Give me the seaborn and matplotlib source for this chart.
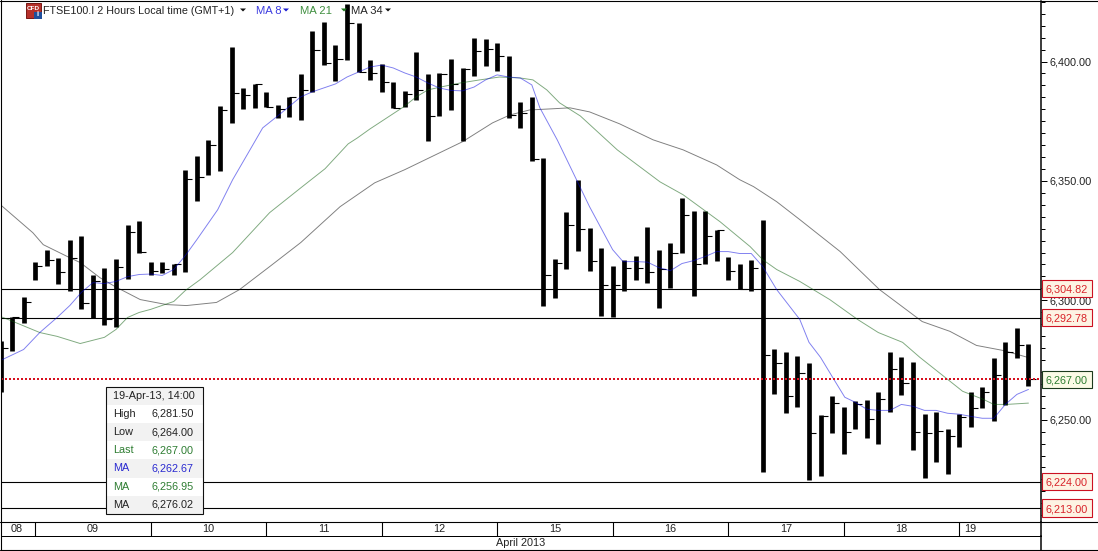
import matplotlib
matplotlib.use("Agg")
import matplotlib.pyplot as plt
from matplotlib.lines import Line2D
from matplotlib.patches import Rectangle, Polygon
import numpy as np
import pandas as pd
import seaborn as sns

# ---------- data ----------
highs = [6282.8,6293.2,6301.2,6316.2,6321.2,6317.9,6325.4,6327.1,6310.8,6313.7,
         6317.5,6331.7,6333.3,6316.2,6316.2,6315.4,6354.7,6360.5,6367.2,6381.4,
         6406.1,6388.9,6390.6,6387.3,6381.8,6385.2,6394.8,6412.7,6416.5,6406.9,
         6424.0,6416.1,6400.6,6399.0,6391.4,6387.7,6404.0,6394.8,6395.2,6401.0,
         6397.3,6409.8,6409.4,6407.7,6402.3,6383.1,6385.2,6359.7,6317.5,6337.1,
         6350.5,6330.4,6322.0,6314.5,6317.0,6318.7,6330.8,6321.2,6324.2,6343.0,
         6337.5,6337.5,6329.6,6318.3,6315.0,6317.0,6333.8,6279.4,6278.2,6276.5,
         6273.6,6251.9,6259.8,6255.2,6257.7,6258.1,6261.5,6278.2,6276.1,6274.0,
         6252.3,6253.1,6246.0,6252.3,6261.5,6263.6,6275.7,6282.4,6288.6,6281.5]
lows = [6261.5,6278.6,6290.3,6308.3,6314.5,6307.0,6304.1,6296.2,6292.4,6289.5,
        6289.0,6309.1,6319.6,6310.4,6311.6,6310.4,6312.0,6341.7,6352.6,6354.2,
        6374.3,6380.2,6380.6,6381.0,6376.4,6376.8,6375.6,6387.3,6398.5,6391.8,
        6400.6,6395.6,6392.3,6387.3,6380.6,6381.0,6383.9,6366.8,6377.2,6379.7,
        6366.8,6393.9,6398.1,6396.0,6376.4,6372.2,6358.4,6297.8,6300.8,6313.3,
        6320.8,6312.4,6293.6,6293.2,6304.1,6308.7,6307.4,6296.6,6305.3,6319.6,
        6301.6,6315.4,6316.6,6308.3,6304.9,6303.7,6228.0,6260.6,6252.7,6255.2,
        6224.7,6226.4,6244.3,6235.6,6246.0,6242.2,6239.7,6253.1,6260.2,6237.2,
        6225.5,6232.2,6227.2,6238.5,6246.8,6254.8,6249.3,6256.0,6275.7,6264.0]
closes = [6279.9,6293.2,6299.1,6314.5,6317.0,6312.0,6317.9,6298.7,6307.9,6292.0,
          6314.1,6328.7,6320.4,6312.4,6312.9,6315.4,6350.9,6351.7,6365.1,6379.7,
          6386.8,6386.0,6390.6,6381.0,6380.2,6385.2,6388.1,6404.8,6399.4,6401.0,
          6416.1,6395.6,6395.2,6391.4,6380.6,6386.4,6388.1,6377.2,6394.8,6390.6,
          6396.9,6404.4,6405.2,6402.3,6377.6,6378.5,6359.3,6310.4,6315.8,6331.7,
          6330.0,6316.6,6306.6,6306.2,6313.7,6313.7,6312.0,6313.3,6320.0,6335.9,
          6315.4,6327.1,6329.6,6312.4,6304.9,6313.7,6276.9,6273.6,6259.8,6269.4,
          6244.3,6251.4,6256.9,6244.7,6256.4,6250.2,6258.5,6271.1,6265.2,6244.7,
          6244.3,6245.2,6243.1,6251.0,6254.8,6261.5,6268.6,6278.2,6281.1,6267.0]

ma8_idx = [0,2,3.4,4.9,6,7,8,9,10,11,12,13,14,15,16,17,18.8,20.1,21.6,22.7,24,26,27,29,30,31,32,33,34,35,36,37,38,39,40,41,42,43,44,45,46,46.7,48.2,51,53,53.9,55,56,57,58,59,60,61,62,63,64,65,66,67.2,69.2,70,71,72,73.1,74,75,76,77,78,79,80,81,82,83,84,85,86,87,88,89]
ma8_val = [6274.8,6279.4,6286.5,6292.8,6297.8,6303.3,6307.4,6307.0,6307.9,6309.9,6310.8,6311.0,6310.4,6312.9,6318.7,6325.4,6337.9,6350.5,6363.0,6372.2,6377.2,6385.2,6387.3,6390.6,6393.5,6395.6,6397.7,6398.5,6397.3,6395.2,6393.5,6391.0,6388.9,6387.9,6387.7,6389.3,6392.3,6394.4,6393.5,6393.1,6390.2,6380.6,6367.2,6339.2,6321.2,6316.2,6316.2,6316.0,6313.7,6312.4,6315.4,6316.6,6318.3,6320.4,6320.4,6319.6,6319.6,6314.1,6304.5,6292.0,6282.4,6276.1,6268.1,6259.4,6257.3,6254.4,6253.9,6253.9,6256.4,6255.6,6253.9,6253.9,6252.7,6252.3,6251.4,6250.6,6250.6,6256.4,6260.6,6262.67]

ma21_idx = [0,0.9,3.4,4.9,6.9,9,10,11,12,13,15,16,17.3,20.1,23.3,26,28.1,30.1,30.9,32,34.9,36,37,38.1,39.8,41.5,43.2,45,46.1,47.3,48.4,50.2,53.4,57.1,59.1,62.3,64.9,66,67.2,69.2,71.8,74.2,76,78.1,79.6,82,83.3,85.1,86,87.1,89]
ma21_val = [6293.2,6291.5,6286.5,6284.9,6281.9,6284.5,6287.8,6292.8,6294.9,6296.2,6299.5,6304.1,6308.7,6320.0,6336.7,6347.1,6355.1,6365.5,6368.0,6371.8,6381.0,6385.2,6388.1,6389.3,6391.0,6392.3,6393.5,6393.1,6392.3,6388.1,6382.7,6377.2,6363.0,6349.6,6344.2,6332.9,6322.5,6317.0,6312.9,6307.9,6300.3,6292.0,6286.5,6282.4,6276.1,6266.9,6261.9,6258.5,6256.4,6256.4,6256.95]

ma34_idx = [0,2.8,3.7,5.8,6.9,8.6,9.9,12.1,14.4,16.1,18.7,20.7,23.3,26,29.4,32.4,35,40,42.6,44.1,45.8,47.8,49.3,51,53.6,56.5,59.1,62,64,65.2,67.2,69.2,72.7,76.1,79.8,82.2,84.5,86.8,89]
ma34_val = [6340.0,6328.3,6323.3,6318.3,6315.8,6309.5,6305.8,6300.3,6298.2,6297.8,6299.1,6304.5,6314.1,6324.2,6339.2,6349.2,6354.7,6366.4,6374.3,6377.6,6379.7,6380.2,6380.6,6378.9,6373.9,6367.2,6363.0,6356.7,6350.5,6347.6,6341.3,6333.8,6320.4,6304.5,6291.1,6287.0,6281.1,6279.0,6276.02]

black_levels = [6304.82, 6292.78, 6224.00, 6213.00]
last_price = 6267.00
y_ticks_major = [6400, 6350, 6300, 6250]

day_labels = ["08", "09", "10", "11", "12", "15", "16", "17", "18", "19"]
day_label_idx = [1.4, 8, 18, 28, 38, 48, 58, 68, 78, 84]
day_edges = [3, 13, 23, 33, 43, 53, 63, 73, 83]
month_label = "April 2013"
month_label_idx = 45

info_rows = [("19-Apr-13, 14:00", "", "#222222"),
             ("High", "6,281.50", "#222222"),
             ("Low", "6,264.00", "#222222"),
             ("Last", "6,267.00", "#2e7d32"),
             ("MA", "6,262.67", "#2a2ad0"),
             ("MA", "6,256.95", "#2e7d32"),
             ("MA", "6,276.02", "#222222")]

# ---------- figure ----------
sns.set_theme(style="white")
plt.rcParams["font.family"] = ["Liberation Sans", "DejaVu Sans"]
W, H = 1098, 551
PX = 0.72
FS = 7.8
TXT = "#222222"
fig = plt.figure(figsize=(W / 100, H / 100), dpi=100, facecolor="white")


def axpx(x0, y0, x1, y1, **kw):
    return fig.add_axes([x0 / W, 1 - y1 / H, (x1 - x0) / W, (y1 - y0) / H], **kw)


ax = axpx(1, 1, 1041, 521.5)
ax.set_facecolor("white")
x = np.arange(len(highs))
ax.set_xlim((1 - 0.5) / 11.55, (1041 - 0.5) / 11.55)
ax.set_ylim(6400 - 460 / 2.388, 6400 + 60.5 / 2.388)

# levels
for lv in black_levels:
    ax.axhline(lv, color="black", lw=PX * 1.1, zorder=1)

# OHLC bars
vl = ax.vlines(x, lows, highs, color="black", lw=4.7 * PX, zorder=2)
vl.set_capstyle("butt")
ax.hlines(closes, x, x + 0.62, color="black", lw=PX * 1.1, zorder=2)

# moving averages
for idx, val, col in [(ma34_idx, ma34_val, "#000000"),
                      (ma21_idx, ma21_val, "#005500"),
                      (ma8_idx, ma8_val, "#0000e0")]:
    df = pd.DataFrame({"i": idx, "v": val})
    sns.lineplot(data=df, x="i", y="v", ax=ax, color=col, lw=0.95 * PX,
                 alpha=0.5, errorbar=None, zorder=3, legend=False)

ax.axhline(last_price, color="#d8101f", lw=2 * PX, ls=(0, (1, 1)), zorder=4)

ax.set_xlabel("")
ax.set_ylabel("")
ax.set_xticks([])
ax.yaxis.tick_right()
ax.set_yticks(y_ticks_major)
ax.set_yticklabels([f"{v:,.2f}" for v in y_ticks_major], fontsize=FS, color=TXT)
minor = [v for v in np.arange(6210, 6426, 5) if v not in y_ticks_major]
ax.set_yticks(minor, minor=True)
ax.tick_params(axis="y", which="major", length=6 * PX, width=PX, pad=2 * PX,
               color="black", right=True)
ax.tick_params(axis="y", which="minor", length=4 * PX, width=PX, color="black", right=True)
for s in ax.spines.values():
    s.set_color("black")
    s.set_linewidth(PX)
ax.spines["right"].set_linewidth(1.5 * PX)


def tag(val, txtcol, edge, face):
    tr = ax.get_yaxis_transform()
    ax.add_patch(Rectangle((1.0006, val - 3.6), 50 / 1040, 7.2, transform=tr, clip_on=False,
                           fc=face, ec=edge, lw=PX * 1.1, zorder=6))
    ax.text(1 + 4 / 1040, val, f"{val:,.2f}", transform=tr, ha="left", va="center_baseline",
            fontsize=FS, color=txtcol, zorder=7, clip_on=False)


for lv in black_levels:
    tag(lv, "#d8232a", "#cc1122", "#fdf3e3")
tag(last_price, "#2e7d32", "#1c3a1c", "#fbfbe6")

# date row and month row share the bar scale
dax = axpx(1, 521.5, 1041, 536, sharex=ax)
dax.set_yticks([])
dax.tick_params(axis="x", length=0, labelbottom=False)
dax.set_ylim(0, 1)
for e in day_edges:
    dax.axvline(e, color="black", lw=PX * 1.1)
for lab, pos in zip(day_labels, day_label_idx):
    dax.text(pos, 0.48, lab, ha="center", va="center", fontsize=FS, color=TXT)
for s in dax.spines.values():
    s.set_color("black")
    s.set_linewidth(PX)
dax.spines["right"].set_linewidth(1.5 * PX)

max_ = axpx(1, 536, 1041, 550, sharex=ax)
max_.set_yticks([])
max_.tick_params(axis="x", length=0, labelbottom=False)
max_.set_ylim(0, 1)
max_.text(month_label_idx, 0.5, month_label, ha="center", va="center", fontsize=FS, color=TXT)
for s in max_.spines.values():
    s.set_color("black")
    s.set_linewidth(PX)
max_.spines["right"].set_linewidth(1.5 * PX)

# overlay in pixel space for the header, the info box and the frame
ov = fig.add_axes([0, 0, 1, 1], zorder=10)
ov.set_xlim(0, W)
ov.set_ylim(H, 0)
ov.axis("off")
ov.patch.set_alpha(0)

for y0 in (0.5, 521.5, 550.3):
    ov.add_line(Line2D([0, W], [y0, y0], color="black", lw=PX * 1.1))
ov.add_line(Line2D([0.6, 0.6], [0, 550], color="black", lw=PX * 1.1))

# info box
bx0, by0, bx1, by1 = 105.5, 386.5, 203, 514
rh = (by1 - by0) / 7
ov.add_patch(Rectangle((bx0, by0), bx1 - bx0, by1 - by0, fc="white", ec="none", zorder=1))
for k, (lab, val, col) in enumerate(info_rows):
    if k % 2 == 0:
        ov.add_patch(Rectangle((bx0, by0 + k * rh), bx1 - bx0, rh, fc="#f2f2f2", ec="none", zorder=2))
    ov.text(113, by0 + (k + 0.5) * rh, lab, ha="left", va="center", fontsize=FS, color=col, zorder=4)
    if val:
        ov.text(152, by0 + (k + 0.5) * rh, val, ha="left", va="center", fontsize=FS, color=col, zorder=4)
ov.add_patch(Rectangle((bx0, by0), bx1 - bx0, by1 - by0, fc="none", ec="#111111", lw=PX * 1.1, zorder=5))

# header
ov.add_patch(Rectangle((26, 3), 15, 15, fc="#b5302a", ec="#7a1a16", lw=PX, zorder=3))
ov.text(33.2, 8.5, "CFD", ha="center", va="center", fontsize=4.6, color="white",
        fontweight="bold", zorder=4)
ov.add_patch(Rectangle((34, 12), 7.5, 6.5, fc="#1f4f9c", ec="none", zorder=4))
ov.text(37.7, 15, "i", ha="center", va="center", fontsize=5.5, color="white",
        fontweight="bold", zorder=5)
ov.text(43, 10.5, "FTSE100.I 2 Hours Local time (GMT+1)", ha="left", va="center",
        fontsize=7.75, color=TXT)
ov.text(256, 10.5, "MA 8", ha="left", va="center", fontsize=8.1, color="#3a3ae0")
ov.text(300, 10.5, "MA 21", ha="left", va="center", fontsize=8.1, color="#3f8f3f")
ov.text(351, 10.5, "MA 34", ha="left", va="center", fontsize=8.1, color=TXT)
for tx, tc in [(243, "#111111"), (286, "#1a1ad0"), (338 + 6, "#1f7a1f"), (388, "#111111")]:
    ov.add_patch(Polygon([[tx - 3, 8.5], [tx + 3, 8.5], [tx, 11.5]], closed=True, fc=tc, ec="none"))

fig.savefig("out.png", dpi=100)
